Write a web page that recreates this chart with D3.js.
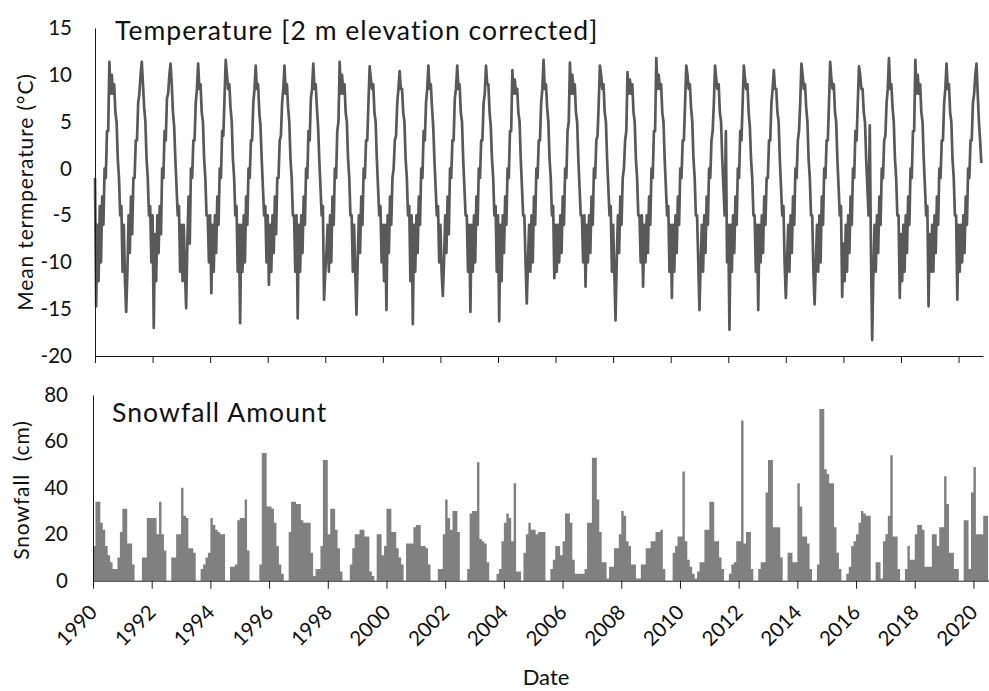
<!DOCTYPE html>
<html>
<head>
<meta charset="utf-8">
<script src="https://cdn.jsdelivr.net/npm/d3@7"></script>
<style>
  body { margin: 0; background: #fff; }
  text { font-family: Lato, "Open Sans", sans-serif; fill: #111; }
</style>
</head>
<body>
<div id="chart"></div>
<script>
// years shown, one row per year below
const years = d3.range(1990, 2021);

// mean temperature (°C) at half-month steps (1st, 16th of each month)
const tempRows = [
  [-1,-14.7,-6,-12,-4,-10,-3,-6,0,-1,4,4,11.4,8,10,8,9,6,5,1,-1,-5,-4,-11],             // 1990
  [-6,-12,-15.3,-11,-5,-9,-3,-7,-1,-1,3,3,7,8,10,11.4,9,6.5,5,1,-1,-5,-4,-10],          // 1991
  [-5,-17,-7,-12,-5,-9,-4,-7,0,-1,4,3,7.5,8,10,11.2,9,6,4.5,1,-2,-5,-4,-11],            // 1992
  [-6,-12,-6,-11,-14.9,-8,-3,-8,0,-1,3,3,7,8.5,11.2,8.5,9,6,5,1,-1,-5,-5,-10],          // 1993
  [-5,-13.3,-6,-11,-5,-9,-3,-6,0,-1,4,3.5,7.5,11.6,10,8.5,9,6.5,5,1,-1,-5,-4,-11],      // 1994
  [-6,-16.5,-6,-11,-5,-10,-3,-6,0,-1,3,3,7,8.5,11,8.5,9,6,4.5,1,-2,-5,-4,-10],          // 1995
  [-5,-12.4,-6,-11,-5,-9,-3,-7,-1,-1,3,3.5,7,8.5,11,8,9,6.5,5,1,-1,-5,-5,-11],          // 1996
  [-5,-16,-6,-11,-5,-9,-3,-6,0,-1,4,3,7.5,8.5,11.2,8.5,9,6.5,4.5,1,-2,-5,-4,-14],       // 1997
  [-11,-9,-6,-11,-5,-10,-3,-6,0,-1,4,5,11.4,8,10,8,9,6,5,1,-1,-5,-5,-11],               // 1998
  [-6,-11,-15.6,-10,-5,-9,-3,-6,0,-1,3,3,7,10.9,9.5,8.5,9,6,5,1,-2,-5,-4,-10],          // 1999
  [-6,-12,-6,-15.1,-5,-9,-3,-6,-1,0,3,3.5,7,8.5,10.4,8.5,8.5,6,5,1,-1,-5,-4,-12],       // 2000
  [-5,-16.6,-6,-11,-5,-9,-3,-6,0,-1,4,3,7,8.5,11,8.5,9,6.5,4.5,1,-2,-5,-4,-10],         // 2001
  [-6,-11,-13.6,-10,-5,-9,-3,-7,0,-1,3,3,7.5,8.5,11,8.5,9,6,5,1,-2,-5,-5,-11],          // 2002
  [-6,-15.3,-6,-11,-5,-10,-3,-6,0,-1,3,3,7,8,11,9,9,6,4.5,1,-1,-5,-4,-11],              // 2003
  [-5,-16.3,-6,-12,-5,-9,-3,-6,0,-1,4,4,10.5,8,9.5,8,8.5,6,5,1,-2,-5,-5,-10],           // 2004
  [-14.4,-10,-6,-11,-5,-10,-3,-6,0,-1,3,3,7,8.5,11.6,8.5,9,6.5,5,1,-1,-5,-4,-11.7],     // 2005
  [-6,-11,-6,-10,-5,-9,-3,-6,0,-1,4,5,11.3,8,10,8,9,6,5,1,-2,-5,-5,-10],                // 2006
  [-5,-12.6,-6,-10,-5,-9,-3,-6,0,-1,3,3.5,7,11,10,8.5,9,6,5,1,-2,-5,-4,-11],            // 2007
  [-6,-11,-16.2,-10,-5,-9,-3,-6,-1,0,3,4,10.3,8,9.5,8,9,6,5,1,-1,-5,-5,-10],            // 2008
  [-5,-12.6,-6,-10,-5,-9,-3,-6,0,-1,4,4,11.8,8.5,10,8.5,9,6,5,1,-2,-5,-4,-11],          // 2009
  [-6,-13.8,-6,-11,-5,-9,-3,-6,0,-1,3,3,7,11,10,8.5,9,6.5,5,1,-1,-5,-5,-10],            // 2010
  [-15.1,-10,-6,-11,-5,-9,-3,-6,0,-1,3,4,7,11,9.5,8.5,9,6,5,1,-2,-5,4,-10],             // 2011
  [-6,-17.2,-6,-11,-5,-9,-3,-6,0,-1,4,3,7,11,9.5,8.5,9,6,4.5,1,-1,-5,-5,-11],           // 2012
  [-6,-15.1,-6,-10,-5,-9,-3,-6,-1,-1,3,3,7,8.5,10.5,8.5,8.5,6,5,1,-2,-5,-4,-10],        // 2013
  [-13.8,-10,-6,-11,-5,-9,-3,-6,0,-1,3,4,7,11.2,10,8.5,9,6.5,5,1,-1,-5,-5,-11],         // 2014
  [-14.5,-10,-6,-11,-5,-10,-3,-6,0,-1,3,3,7,11.4,9.5,8.5,9,6,5,1,-2,-5,-4,-13.7],       // 2015
  [-8,-12,-6,-11,-5,-9,-3,-6,0,-1,4,3,7,10.9,10,8.5,8.5,6,5,1,-2,-5,4.6,-9],            // 2016
  [-18.3,-11,-6,-11,-5,-9,-3,-6,0,-1,3,3.5,7,8.5,11.8,8.5,9,6.5,5,1,-1,-5,-5,-13.8],    // 2017
  [-7,-12,-6,-11,-5,-9,-3,-6,0,-1,4,4,11.6,8,10,8,9,6,5,1,-2,-5,-4,-14.7],              // 2018
  [-7,-11,-6,-11,-5,-9,-3,-6,0,-1,3,3,7,8.5,11.2,8.5,9,6,5,1,-1,-5,-5,-14],             // 2019
  [-6,-11,-6,-10,-5,-9,-3,-6,0,-1,3,3,7,8,10,11.2,8,5,3,0.6]                            // 2020
];

// monthly snowfall (cm), Jan..Dec
const snowRows = [
  [15,34,34,25,22,15,11,8,5,5,10,21],   // 1990
  [31,31,16,16,7,0,0,0,10,10,27,27],    // 1991
  [27,27,20,34,20,13,0,0,10,10,20,20],  // 1992
  [40,28,27,14,14,12,0,0,5,7,10,12],    // 1993
  [27,24,22,21,20,20,0,0,6,6,7,26],     // 1994
  [27,27,35,13,0,0,0,0,7,55,55,32],     // 1995
  [32,31,25,15,7,3,0,0,21,34,34,33],    // 1996
  [33,26,25,25,25,12,2,5,5,15,52,52],   // 1997
  [20,31,31,22,14,4,0,0,0,7,14,20],     // 1998
  [20,22,22,19,19,4,2,0,20,20,11,15],   // 1999
  [31,31,21,21,14,10,7,0,16,16,16,23],  // 2000
  [24,24,15,15,14,7,0,0,0,5,5,20],      // 2001
  [35,27,22,30,30,21,0,0,0,5,29,30],    // 2002
  [30,51,18,17,16,8,0,0,0,3,5,17],      // 2003
  [25,29,27,17,42,4,4,0,12,20,25,22],   // 2004
  [22,20,21,21,21,0,0,5,9,15,15,11],    // 2005
  [17,29,29,25,9,3,3,3,3,5,25,25],      // 2006
  [53,53,35,21,8,8,1,6,6,14,14,20],     // 2007
  [30,28,17,15,7,7,1,1,7,7,14,14],      // 2008
  [17,17,21,21,22,5,0,0,0,12,15,19],    // 2009
  [19,47,17,9,6,3,1,4,8,8,22,22],       // 2010
  [34,34,17,17,10,5,0,0,3,7,8,17],      // 2011
  [17,69,16,21,21,5,0,0,5,8,8,38],      // 2012
  [52,52,23,23,23,10,0,0,12,12,8,8],    // 2013
  [42,32,19,19,16,5,0,0,7,74,74,48],    // 2014
  [46,42,42,23,12,5,0,0,3,6,15,17],     // 2015
  [20,25,30,29,28,28,0,0,8,8,1,17],     // 2016
  [20,28,54,19,19,5,0,0,5,15,9,9],      // 2017
  [20,24,24,22,6,6,6,20,20,15,23,23],   // 2018
  [45,33,12,12,5,5,0,0,26,26,5,38],     // 2019
  [49,20,20,20,28,28]                   // 2020
];

const tempTicks = [15, 10, 5, 0, -5, -10, -15, -20];
const snowTicks = [0, 20, 40, 60, 80];
const dateTicks = d3.range(1990, 2021, 2);

let width = 989;
let height = 691;

let svg = d3.select("#chart").append("svg")
  .attr("width", width)
  .attr("height", height);

// flatten rows into points
let tempPts = [];
tempRows.forEach(function(row, i) {
  row.forEach(function(v, j) { tempPts.push({t: years[i] + j / 24, v: v}); });
});
let snowPts = [];
snowRows.forEach(function(row, i) {
  row.forEach(function(v, j) { snowPts.push({t: years[i] + j / 12, v: v}); });
});
// closing edge of the last month so the step area ends there
let lastSnow = snowPts[snowPts.length - 1];
snowPts.push({t: lastSnow.t + 1 / 12, v: lastSnow.v});

// ---------- top panel: temperature ----------
let xTop = d3.scaleLinear().domain([1990, 2020.85]).range([95, 983]);
let yTop = d3.scaleLinear().domain([-20, 15]).range([356, 28]);

let line = d3.line()
  .x(function(d) { return xTop(d.t); })
  .y(function(d) { return yTop(d.v); });

svg.append("path")
  .datum(tempPts)
  .attr("d", line)
  .attr("fill", "none")
  .attr("stroke", "#595959")
  .attr("stroke-width", 2.7)
  .attr("stroke-linejoin", "round");

svg.append("g")
  .attr("transform", "translate(0,356)")
  .call(d3.axisBottom(xTop).tickValues(dateTicks).tickSize(7).tickSizeOuter(0).tickFormat(""));

svg.append("g")
  .attr("transform", "translate(95,0)")
  .call(d3.axisLeft(yTop).tickValues(tempTicks).tickSize(0).tickPadding(23).tickFormat(function(d) { return String(d); }));

// ---------- bottom panel: snowfall ----------
let xBot = d3.scaleLinear().domain([1990, 2020.53]).range([93, 989]);
let yBot = d3.scaleLinear().domain([0, 80]).range([580.7, 395]);

let snowArea = d3.area()
  .curve(d3.curveStepAfter)
  .x(function(d) { return xBot(d.t); })
  .y0(yBot(0))
  .y1(function(d) { return yBot(d.v); });

svg.append("path")
  .datum(snowPts)
  .attr("d", snowArea)
  .attr("fill", "#808080");

let xAxisBot = svg.append("g")
  .attr("transform", "translate(0,580.7)")
  .call(d3.axisBottom(xBot).tickValues(dateTicks).tickSize(8).tickSizeOuter(0).tickFormat(d3.format("d")));

xAxisBot.selectAll("text")
  .attr("x", 0).attr("y", 0).attr("dy", 0)
  .attr("text-anchor", "end")
  .attr("transform", "translate(5,33) rotate(-45)");

svg.append("g")
  .attr("transform", "translate(93,0)")
  .call(d3.axisLeft(yBot).tickValues(snowTicks).tickSize(0).tickPadding(25).tickFormat(function(d) { return String(d); }));

// axis styling
svg.selectAll(".domain, .tick line").attr("stroke", "#1a1a1a").attr("stroke-width", 1);
svg.selectAll(".tick text")
  .style("font-family", "Lato, 'Open Sans', sans-serif")
  .style("font-size", "20.5px")
  .attr("fill", "#111");

// ---------- titles ----------
svg.append("text")
  .attr("x", 115).attr("y", 40)
  .style("font-size", "26.5px")
  .style("letter-spacing", "1.05px")
  .text("Temperature [2 m elevation corrected]");

svg.append("text")
  .attr("x", 112).attr("y", 422)
  .style("font-size", "26.5px")
  .style("letter-spacing", "1.1px")
  .text("Snowfall Amount");

svg.append("text")
  .attr("transform", "translate(33,192) rotate(-90)")
  .attr("text-anchor", "middle")
  .style("font-size", "21px")
  .style("letter-spacing", "0.85px")
  .text("Mean termperature (°C)");

svg.append("text")
  .attr("transform", "translate(29,490) rotate(-90)")
  .attr("text-anchor", "middle")
  .style("font-size", "21px")
  .style("letter-spacing", "0.9px")
  .style("white-space", "pre")
  .text("Snowfall  (cm)");

svg.append("text")
  .attr("x", 546).attr("y", 685)
  .attr("text-anchor", "middle")
  .style("font-size", "22px")
  .text("Date");
</script>
</body>
</html>
